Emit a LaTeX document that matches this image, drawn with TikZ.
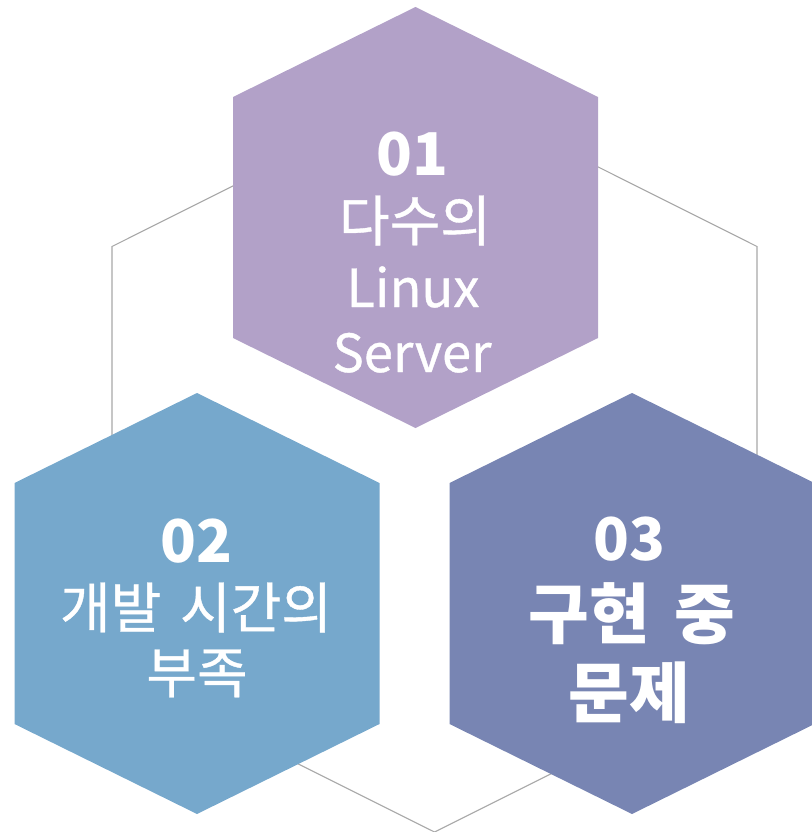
\documentclass[tikz,border=0pt]{standalone}
\usepackage{fontspec}
\setmainfont{Noto Sans CJK KR}
\newfontfamily\hexfont{Noto Sans CJK KR}[FakeBold=0.7]

\definecolor{hexpurple}{RGB}{178,161,200}
\definecolor{hexblue}{RGB}{118,168,204}
\definecolor{hexindigo}{RGB}{120,133,179}
\definecolor{ringgray}{RGB}{168,168,168}

\begin{document}
\begin{tikzpicture}[x=1pt, y=-1pt]

% Styles
\tikzstyle{ring} = [draw=ringgray, line width=1.1pt, line join=miter]
\tikzstyle{num}  = [text=white, anchor=base, inner sep=0pt, font=\fontsize{59}{60}\bfseries\selectfont]
\tikzstyle{txt}  = [text=white, anchor=base, inner sep=0pt, font=\hexfont\fontsize{55}{60}\selectfont]
\tikzstyle{latin}= [text=white, anchor=base, inner sep=0pt, font=\hexfont\fontsize{52.5}{60}\selectfont]
\tikzstyle{big}  = [text=white, anchor=base, inner sep=0pt, font=\fontsize{66}{70}\bfseries\selectfont]

\useasboundingbox (0,0) rectangle (811,832);

% Background ring
\draw [ring] (434.5,85) -- (757,246.5) -- (757,671) -- (434.5,832)
  -- (112,671) -- (112,246.5) -- cycle;

% Hexagons
\fill [hexpurple] (415.5,7) -- ++(182.5,90) -- ++(0,241) -- ++(-182.5,90)
  -- ++(-182.5,-90) -- ++(0,-241) -- cycle;
\fill [hexblue] (197,393) -- ++(182.5,90) -- ++(0,241) -- ++(-182.5,90)
  -- ++(-182.5,-90) -- ++(0,-241) -- cycle;
\fill [hexindigo] (632,393) -- ++(182.5,90) -- ++(0,241) -- ++(-182.5,90)
  -- ++(-182.5,-90) -- ++(0,-241) -- cycle;

% Labels
\node [num] (numA) at (412,175) {01};
\node [txt] (lineA1) at (415,241) {다수의};
\node [latin] (lineA2) at (413,307) {Linux};
\node [latin] (lineA3) at (412,372) {Server};

\node [num] (numB) at (196,562) {02};
\node [txt] (lineB1) at (196,628) {개발\hspace{0.12em} 시간의};
\node [txt] (lineB2) at (197,693) {부족};

\node [num] (numC) at (629,560) {03};
\node [big] (lineC1) at (632,638) {구현\hspace{0.15em} 중};
\node [big] (lineC2) at (629,717) {문제};

\end{tikzpicture}
\end{document}
